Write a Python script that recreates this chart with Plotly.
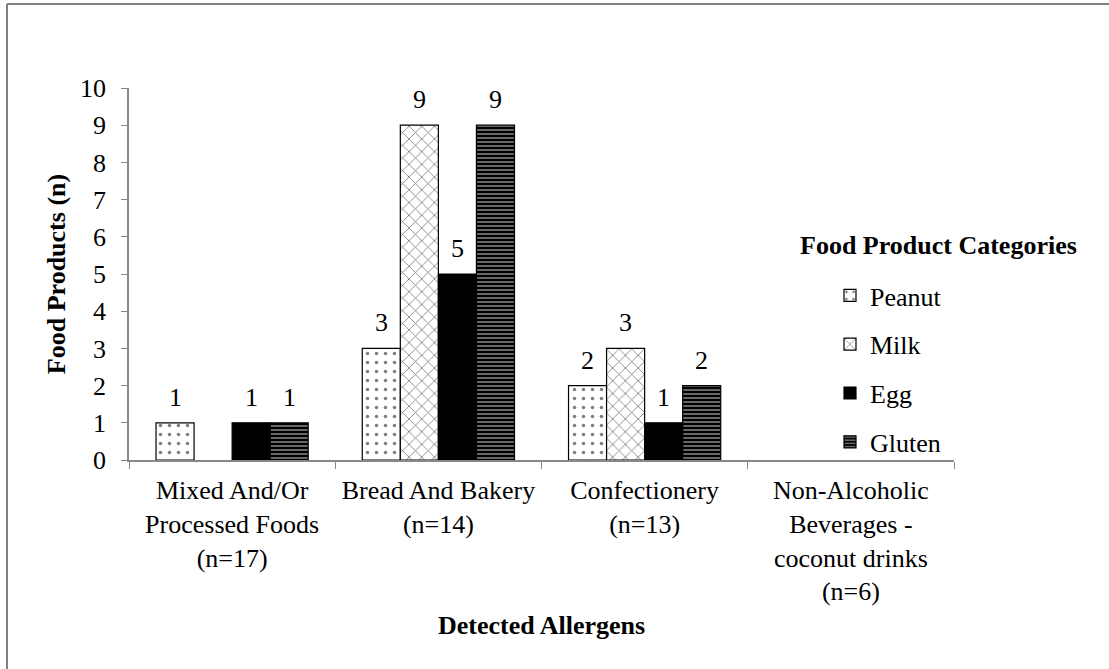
import plotly.graph_objects as go

categories = [
    "Mixed And/Or<br>Processed Foods<br>(n=17)",
    "Bread And Bakery<br>(n=14)",
    "Confectionery<br>(n=13)",
    "Non-Alcoholic<br>Beverages -<br>coconut drinks<br>(n=6)",
]
peanut = [1, 3, 2, 0]
milk = [0, 9, 3, 0]
egg = [1, 5, 1, 0]
gluten = [1, 9, 2, 0]

series = [
    ("Peanut", peanut, dict(shape=".", fgcolor="black", bgcolor="white", size=9, solidity=0.12)),
    ("Milk", milk, dict(shape="x", fgcolor="black", bgcolor="white", size=9, solidity=0.18)),
    ("Egg", egg, dict(shape="", fgcolor="black", bgcolor="black")),
    ("Gluten", gluten, dict(shape="-", fgcolor="white", bgcolor="black", size=4, solidity=0.4)),
]

FONT = "'Times New Roman', 'Liberation Serif', serif"
FS = 26
L, R, T, B = 129, 155, 88, 209
W, H = 1109, 669
plot_w = W - L - R
plot_h = H - T - B

fig = go.Figure()
for i, (name, vals, pat) in enumerate(series):
    fig.add_trace(go.Bar(
        name=name,
        x=categories,
        y=[v if v else None for v in vals],
        marker=dict(color=pat["bgcolor"], line=dict(color="black", width=1.2), pattern=pat),
        legendgroup=name,
    ))

# value labels above each bar
n = len(series)
cat_px = plot_w / len(categories)
bargap = 0.262
bar_px = cat_px * (1 - bargap) / n
for i, (name, vals, _) in enumerate(series):
    off = (i - (n - 1) / 2) * bar_px
    for c, v in zip(categories, vals):
        if v:
            fig.add_annotation(x=c, y=v, text=str(v), showarrow=False, xshift=off,
                               yanchor="bottom", yshift=9,
                               font=dict(family=FONT, size=FS, color="black"))

px = lambda p: (p - L) / plot_w
py = lambda p: (H - B - p) / plot_h

fig.add_annotation(xref="paper", yref="paper", x=0.5, y=py(625),
                   text="<b>Detected Allergens</b>", showarrow=False, yanchor="middle",
                   font=dict(family=FONT, size=FS, color="black"))
fig.add_annotation(xref="paper", yref="paper", x=px(938), y=py(246),
                   text="<b>Food Product Categories</b>", showarrow=False,
                   xanchor="center", yanchor="middle",
                   font=dict(family=FONT, size=FS, color="black"))

# outer frame edges
fig.add_shape(type="line", xref="paper", yref="paper", x0=px(7), x1=px(7), y0=py(4), y1=py(H + 5),
              line=dict(color="#808080", width=2))
fig.add_shape(type="line", xref="paper", yref="paper", x0=px(7), x1=px(W + 5), y0=py(4), y1=py(4),
              line=dict(color="#808080", width=2))

fig.update_layout(
    width=W, height=H,
    margin=dict(l=L, r=R, t=T, b=B, autoexpand=False),
    paper_bgcolor="white", plot_bgcolor="white",
    barmode="group", bargap=bargap, bargroupgap=0,
    font=dict(family=FONT, size=FS, color="black"),
    legend=dict(
        x=px(830), y=py(272), xanchor="left", yanchor="top",
        font=dict(family=FONT, size=FS),
        tracegroupgap=12, itemwidth=30,
        bgcolor="rgba(0,0,0,0)",
    ),
    xaxis=dict(
        showline=True, linecolor="#888888", linewidth=1.5,
        ticks="outside", tickson="boundaries", ticklen=7, tickcolor="#888888",
        tickfont=dict(family=FONT, size=FS), showgrid=False, ticklabelstandoff=6,
    ),
    yaxis=dict(
        range=[0, 10], dtick=1, showline=True, linecolor="#888888", linewidth=1.5,
        ticks="outside", ticklen=6, tickcolor="#888888", showgrid=False, zeroline=False,
        tickfont=dict(family=FONT, size=FS), ticklabelstandoff=10,
        title=dict(text="<b>Food Products (n)</b>", font=dict(family=FONT, size=FS), standoff=7),
    ),
)

fig.write_html("out.html")
